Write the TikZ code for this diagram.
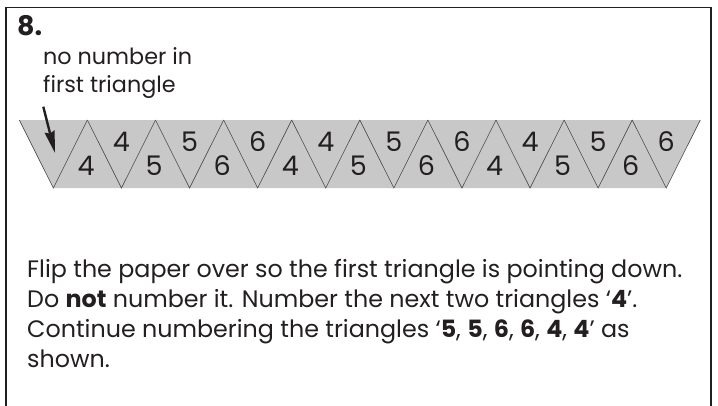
\documentclass[tikz,border=0pt]{standalone}
\usepackage{fontspec}
\setmainfont{Poppins}
\usetikzlibrary{arrows.meta}
\definecolor{stripgray}{HTML}{C8C8C8}
\definecolor{edgegray}{HTML}{4A4A4A}
\definecolor{txt}{HTML}{231F20}
\tikzset{
  framebox/.style={draw=txt,line width=1.1pt},
  folds/.style={draw=edgegray,line width=0.6pt},
  numtxt/.style={font=\fontsize{27}{27}\selectfont,text=txt,inner sep=0pt},
  para/.style={font=\fontsize{23.8}{30}\selectfont,text=txt,inner sep=0pt,anchor=base west},
  labtxt/.style={font=\fontsize{22.3}{28}\selectfont,text=txt,inner sep=0pt,anchor=base west},
}
\begin{document}
\begin{tikzpicture}[x=1pt,y=-1pt]
\useasboundingbox (0,0) rectangle (718,405);
\draw[framebox] (6,406) -- (6,7.5) -- (711,7.5) -- (711,406);
\node[anchor=base west,inner sep=0pt,font=\fontsize{27}{27}\selectfont\bfseries,text=txt] (num) at (17,35) {8.};
\node[labtxt] (lab1) at (43,64) {no number in};
\node[labtxt] (lab2) at (43,92) {first triangle};
% strip
\def\dd{68.1}
\foreach \k in {0,...,10}{\coordinate (T\k) at ({19.3+\dd*\k},120);}
\foreach \k in {0,...,9}{\coordinate (B\k) at ({53.35+\dd*\k},188);}
\fill[stripgray] (T0) -- (T10) -- (B9) -- (B0) -- cycle;
\foreach \k [evaluate=\k as \n using int(\k+1)] in {0,...,9}{
  \draw[folds] (T\k) -- (B\k) -- (T\n);
}
% numbers: upper (down-pointing triangles)
\foreach \k/\v in {1/4,2/5,3/6,4/4,5/5,6/6,7/4,8/5,9/6}{
  \node[numtxt] (u\k) at ({53.35+\dd*\k},142) {\v};
}
% lower (up-pointing triangles)
\foreach \k/\v in {0/4,1/5,2/6,3/4,4/5,5/6,6/4,7/5,8/6}{
  \node[numtxt] (l\k) at ({86+\dd*\k},166) {\v};
}
\coordinate (as) at (43.3,106.7);
\coordinate (ae) at (55,153);
\draw[txt,line width=2.4pt,-{Stealth[length=22pt,width=10pt,inset=2pt]}] (as) -- (ae);
\node[para] (p1) at (27,277) {Flip the paper over so the first triangle is pointing down.};
\node[para] (p2) at (27,307) {Do \textbf{not} number it. Number the next two triangles `\textbf{4}'.};
\node[para] (p3) at (27,337) {Continue numbering the triangles `\textbf{5}, \textbf{5}, \textbf{6}, \textbf{6}, \textbf{4}, \textbf{4}' as};
\node[para] (p4) at (27,367) {shown.};
\end{tikzpicture}
\end{document}
